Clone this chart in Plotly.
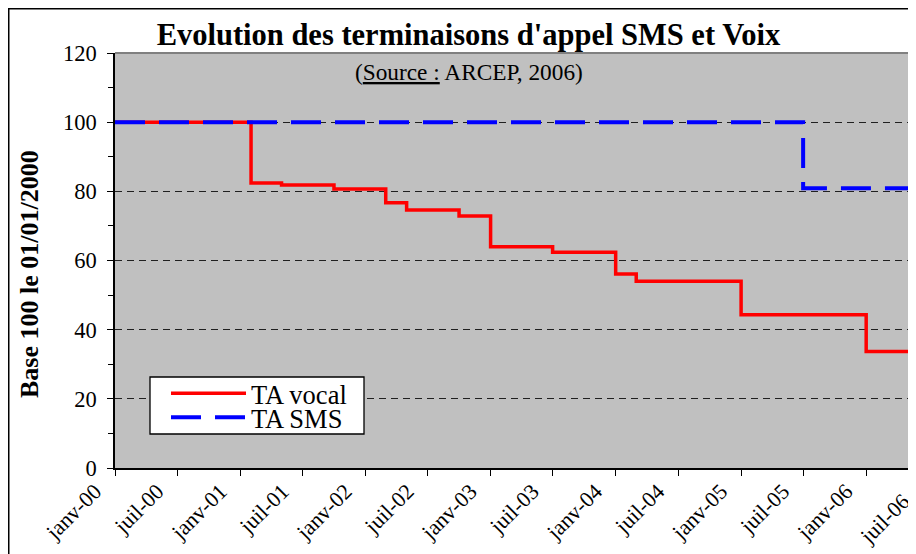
import plotly.graph_objects as go

# ---- data ----
vocal_dates = ["2000-01-01", "2001-02-01", "2001-05-01", "2001-10-01", "2002-03-01",
               "2002-05-01", "2002-10-01", "2003-01-01", "2003-07-01", "2004-01-01",
               "2004-03-01", "2005-01-01", "2006-01-01", "2006-12-31"]
vocal_values = [100, 82.4, 81.8, 80.7, 76.7, 74.6, 72.9, 64.0, 62.4, 56.1, 54.0, 44.3, 33.7, 33.7]

sms_dates = ["2000-01-01", "2005-07-01", "2006-12-31"]
sms_values = [100, 80.9, 80.9]

tick_dates = ["2000-01-01", "2000-07-01", "2001-01-01", "2001-07-01", "2002-01-01",
              "2002-07-01", "2003-01-01", "2003-07-01", "2004-01-01", "2004-07-01",
              "2005-01-01", "2005-07-01", "2006-01-01"]
tick_labels = ["janv-00", "juil-00", "janv-01", "juil-01", "janv-02", "juil-02", "janv-03",
               "juil-03", "janv-04", "juil-04", "janv-05", "juil-05", "janv-06"]
last_tick_label = "juil-06"

SERIF = "Liberation Serif, Times New Roman, serif"

# the page body has an 8px margin: figure pixel = window pixel - 8
OFF = 8
W, H = 916 - OFF, 554 - OFF
L, R, T, B = 115 - OFF, 0, 53 - OFF, 554 - 468
PW, PH = W - L - R, H - T - B


def px_x(p):  # window pixel -> paper x
    return (p - OFF - L) / PW


def px_y(p):  # window pixel -> paper y
    return (H - B - (p - OFF)) / PH


fig = go.Figure()
fig.add_trace(go.Scatter(x=vocal_dates, y=vocal_values, mode="lines", name="TA vocal",
                         line=dict(color="#FF0000", width=3.5, shape="hv"),
                         legend="legend"))
fig.add_trace(go.Scatter(x=sms_dates, y=sms_values, mode="lines", name="TA SMS",
                         line=dict(color="#0000FF", width=4, shape="hv", dash="30px,14px"),
                         legend="legend2"))

fig.update_layout(
    width=W, height=H,
    margin=dict(l=L, r=R, t=T, b=B),
    paper_bgcolor="white",
    plot_bgcolor="#C0C0C0",
    font=dict(family=SERIF, color="black", size=22),
    title=dict(text="<b>Evolution des terminaisons d'appel SMS et Voix</b>",
               x=(468.5 - OFF) / W, xref="container", xanchor="center",
               y=1 - (34 - OFF) / H, yref="container", yanchor="middle",
               font=dict(family=SERIF, size=30.5, color="black")),
    xaxis=dict(type="date", range=["2000-01-01", "2006-05-26 09:00"],
               tickmode="array", tickvals=tick_dates, ticktext=tick_labels,
               tickangle=-45, ticks="outside", ticklen=6, tickcolor="black",
               tickwidth=1, showline=True, linecolor="black", linewidth=1.5,
               showgrid=False, zeroline=False, ticklabelshift=-20, ticklabelstandoff=-6,
               tickfont=dict(family=SERIF, size=22, color="black")),
    yaxis=dict(range=[0, 120], dtick=20, ticks="outside", ticklen=6, tickcolor="black",
               tickwidth=1, showline=True, linecolor="black", linewidth=1.5,
               showgrid=True, gridcolor="#202020", gridwidth=1, griddash="7px,5px",
               zeroline=False, ticklabelstandoff=6,
               minor=dict(dtick=10, ticks="outside", ticklen=5, tickcolor="black",
                          showgrid=False),
               tickfont=dict(family=SERIF, size=22.5, color="black")),
    legend=dict(x=px_x(166), y=px_y(369.5), xanchor="left", yanchor="top",
                bgcolor="rgba(0,0,0,0)", borderwidth=0, itemwidth=75,
                font=dict(family=SERIF, size=26.5, color="black")),
    legend2=dict(x=px_x(166), y=px_y(393.5), xanchor="left", yanchor="top",
                 bgcolor="rgba(0,0,0,0)", borderwidth=0, itemwidth=75,
                 font=dict(family=SERIF, size=26.5, color="black")),
    showlegend=True,
)

# legend frame
fig.add_shape(type="rect", xref="paper", yref="paper",
              x0=px_x(150), x1=px_x(364), y0=px_y(434), y1=px_y(377),
              fillcolor="white", line=dict(color="black", width=1.3), layer="above")
# plot area top border
fig.add_shape(type="line", xref="paper", yref="paper", x0=0, x1=1, y0=1, y1=1,
              line=dict(color="#808080", width=2), layer="above")
# outer chart border
fig.add_shape(type="rect", xref="paper", yref="paper",
              x0=px_x(OFF + 0.75), x1=px_x(960), y0=px_y(600), y1=px_y(OFF + 0.75),
              line=dict(color="black", width=1.5), fillcolor="rgba(0,0,0,0)", layer="above")

fig.add_annotation(text="(<span style='text-decoration:underline'>Source :</span> ARCEP, 2006)",
                   xref="paper", yref="paper", x=px_x(469), y=px_y(72),
                   xanchor="center", yanchor="middle", showarrow=False,
                   font=dict(family=SERIF, size=23.3, color="black"))
fig.add_annotation(text="<b>Base 100 le 01/01/2000</b>", textangle=-90,
                   xref="paper", yref="paper", x=px_x(29), y=px_y(274),
                   xanchor="center", yanchor="middle", showarrow=False,
                   font=dict(family=SERIF, size=26, color="black"))
# last tick label, beyond the visible edge of the axis
fig.add_annotation(text=last_tick_label, textangle=-45,
                   xref="paper", yref="paper", x=px_x(918), y=px_y(486),
                   xanchor="right", yanchor="top", showarrow=False,
                   font=dict(family=SERIF, size=22, color="black"))

fig.write_html("out.html")
